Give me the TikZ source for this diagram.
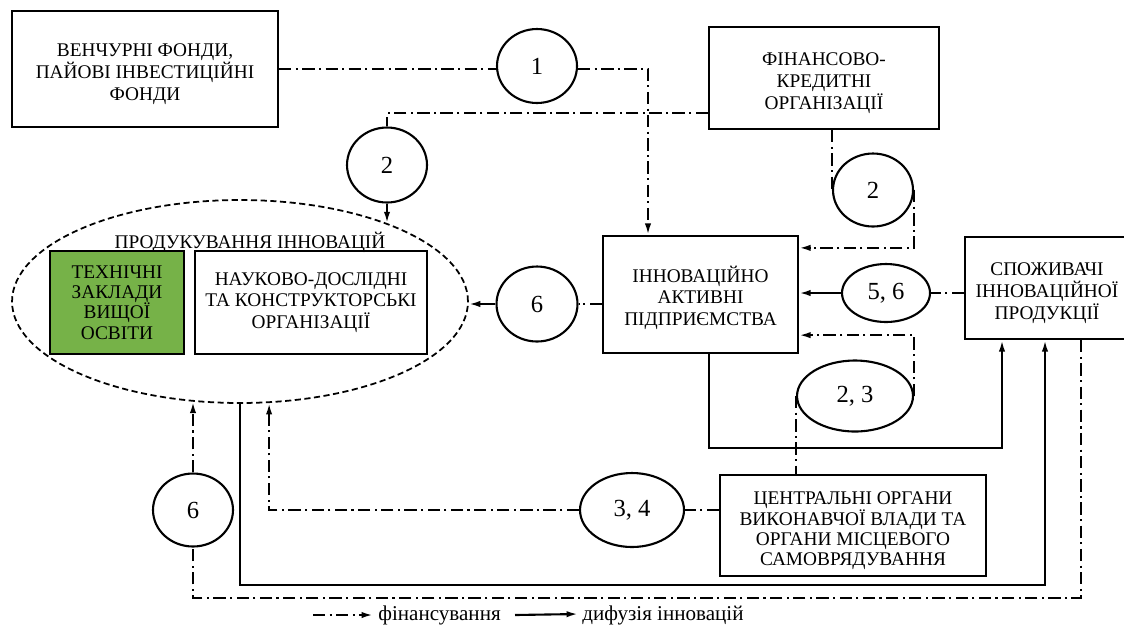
\documentclass[tikz,border=0pt]{standalone}
\usepackage{fontspec}
\setmainfont{Liberation Serif}
\usetikzlibrary{calc}
\usetikzlibrary{shapes.geometric}
\usetikzlibrary{arrows.meta}
\definecolor{techgreen}{RGB}{118,178,72}
\newcommand{\boxstrut}{\rule{0pt}{13pt}}

\begin{document}
\begin{tikzpicture}[x=0.02cm, y=-0.02cm,
		box/.style={draw, line width=1.3pt, align=center, inner sep=0pt, font=\fontsize{11}{12.4}\selectfont},
		num/.style={draw, ellipse, line width=1.2pt, inner sep=0pt, font=\fontsize{14}{16}\selectfont},
		fund/.style={line width=1.2pt, dash pattern=on 7pt off 2.5pt on 1.2pt off 2.5pt},
		diff/.style={line width=1.2pt},
		arr/.style={-{Latex[length=6.5pt,width=3.6pt]}}]
			\useasboundingbox (0, 0) rectangle (1124, 630);

			\node[draw, ellipse, line width=1pt, dash pattern=on 3.5pt off 2pt, inner sep=0pt, minimum width=9.12cm, minimum height=4.06cm] (prod) at (240, 301.5) {};
			\node[font=\fontsize{11}{12.4}\selectfont] (prodlab) at (250, 242) {ПРОДУКУВАННЯ ІННОВАЦІЙ};
			\node[box, fill=techgreen, minimum width=2.68cm, minimum height=2.06cm, font=\fontsize{11}{11.6}\selectfont] (tech) at (117, 302.5) {ТЕХНІЧНІ\\ЗАКЛАДИ\\ВИЩОЇ\\ОСВІТИ};
			\node[box, minimum width=4.64cm, minimum height=2.06cm] (nauk) at (311, 302.5) {НАУКОВО-ДОСЛІДНІ\\ТА КОНСТРУКТОРСЬКІ\\ОРГАНІЗАЦІЇ};

			\node[box, minimum width=5.32cm, minimum height=2.32cm] (venture) at (145, 69) {\boxstrut ВЕНЧУРНІ ФОНДИ,\\ПАЙОВІ ІНВЕСТИЦІЙНІ\\ФОНДИ};
			\node[box, minimum width=4.6cm, minimum height=2.04cm] (fin) at (824, 78) {\boxstrut ФІНАНСОВО-\\КРЕДИТНІ\\ОРГАНІЗАЦІЇ};
			\node[box, minimum width=3.9cm, minimum height=2.34cm] (ent) at (700.5, 294.5) {\boxstrut ІННОВАЦІЙНО\\АКТИВНІ\\ПІДПРИЄМСТВА};
			\node[box, minimum width=3.28cm, minimum height=2.04cm] (cons) at (1047, 288) {\boxstrut СПОЖИВАЧІ\\ІННОВАЦІЙНОЇ\\ПРОДУКЦІЇ};
			\node[box, minimum width=5.32cm, minimum height=2.02cm, font=\fontsize{11}{11.2}\selectfont] (gov) at (853, 525.5) {\boxstrut ЦЕНТРАЛЬНІ ОРГАНИ\\ВИКОНАВЧОЇ ВЛАДИ ТА\\ОРГАНИ МІСЦЕВОГО\\САМОВРЯДУВАННЯ};

			\node[num, minimum width=1.6cm, minimum height=1.48cm] (c1) at (537, 66) {1};
			\node[num, minimum width=1.6cm, minimum height=1.5cm] (c2a) at (387, 165) {2};
			\node[num, minimum width=1.6cm, minimum height=1.46cm] (c2b) at (873, 190) {2};
			\node[num, minimum width=1.76cm, minimum height=1.16cm] (c56) at (886, 293) {5, 6};
			\node[num, minimum width=2.32cm, minimum height=1.42cm] (c23) at (855, 396) {2, 3};
			\node[num, minimum width=1.62cm, minimum height=1.5cm] (c6m) at (537, 304) {6};
			\node[num, minimum width=2.08cm, minimum height=1.48cm] (c34) at (632, 510) {3, 4};
			\node[num, minimum width=1.6cm, minimum height=1.46cm] (c6b) at (193, 510) {6};

			\coordinate (k2) at (1002, 448);
			\coordinate (k3) at (1081, 598);
			\coordinate (k4) at (1045, 585);

			\draw[fund](venture.east)--(venture.east -| c1.west);
			\draw[fund, arr](c1.east |- venture.east)-|($(ent.north)+(-52.5, 0)$);
			\draw[fund]($(fin.south west)+(0, -17)$)-|(c2a.north);
			\draw[fund, arr](c2a.south)--(c2a.south |- prod.28);
			\draw[fund](fin.south -| c2b.west)--(c2b.west);
			\draw[fund, arr](c2b.east)|-($(ent.north east)+(0, 13)$);
			\draw[fund](cons.west |- c56.east)--(c56.east);
			\draw[diff, arr](c56.west)--(c56.west -| ent.east);
			\draw[fund, arr](c23.east)|-($(ent.south east)+(0, -19)$);
			\draw[fund](c23.west)--(c23.west |- gov.north);
			\draw[diff, arr]($(ent.south)+(8.5, 0)$)|-(k2)--(k2 |- cons.south);
			\draw[fund](ent.west |- c6m.east)--(c6m.east);
			\draw[diff, arr](c6m.west)--(c6m.west -| prod.east);
			\draw[fund](gov.west |- c34.east)--(c34.east);
			\draw[fund, arr](c34.west)-|(prod.286);
			\draw[fund](k3 |- cons.south)--(k3)-|(c6b.south);
			\draw[fund, arr](c6b.north)--(c6b.north |- prod.245);
			\draw[diff, arr](prod.south)|-(k4)--(k4 |- cons.south);

			\coordinate (lg1) at (313, 615);
			\coordinate (lg2) at (373, 615);
			\coordinate (lg3) at (515, 615);
			\coordinate (lg4) at (578, 614);
			\draw[fund, arr](lg1)--(lg2);
			\node[anchor=west, inner sep=0pt, font=\fontsize{12}{14}\selectfont] (lgfin) at (378, 615) {фінансування};
			\draw[diff, arr](lg3)--(lg4);
			\node[anchor=west, inner sep=0pt, font=\fontsize{12}{14}\selectfont] (lgdif) at (582, 615) {дифузія інновацій};
		\end{tikzpicture}
\end{document}
